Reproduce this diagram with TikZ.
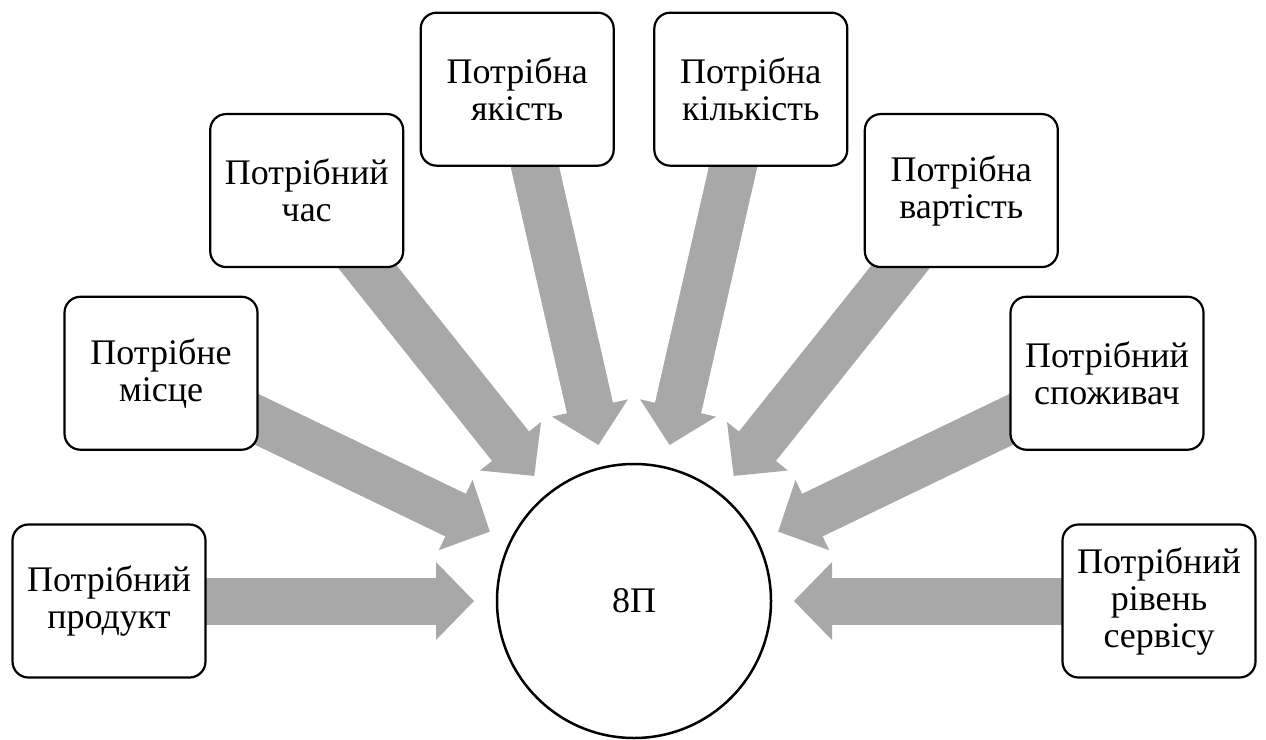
\documentclass[tikz,border=0pt]{standalone}
\usepackage{fontspec}
\setmainfont{Liberation Serif}
\newfontfamily\tnr{Liberation Serif}
\usetikzlibrary{arrows.meta,backgrounds,calc}
\definecolor{arrowgray}{RGB}{168,168,168}
\begin{document}
\begin{tikzpicture}[x=1pt,y=1pt,
  box/.style={draw, line width=2.2pt, rounded corners=16pt, fill=white,
    minimum width=193pt, minimum height=153pt, align=center, inner sep=2pt,
    font=\tnr\fontsize{36}{37}\selectfont},
  hub/.style={draw, circle, line width=2.5pt, fill=white, minimum size=274pt,
    inner sep=0pt, font=\tnr\fontsize{36}{37}\selectfont},
  blockarrow/.style={draw=arrowgray, line width=47pt,
    -{Triangle[width=78pt 0 0, length=38pt 0 0, line width=0pt 0 0]},
    shorten >=160pt},
  shaft/.style={draw=arrowgray, line width=47pt, shorten >=194pt}
]
\useasboundingbox (0,0) rectangle (1266,-739);
\node[hub] (c) at (634,-601) {8П};
\node[box] (b1) at ($(c)+(180:525)$) {Потрібний\\продукт};
\node[box] (b2) at ($(c)+(154.2857:525)$) {Потрібне\\місце};
\node[box] (b3) at ($(c)+(128.5714:525)$) {Потрібний\\час};
\node[box] (b4) at ($(c)+(102.8571:525)$) {Потрібна\\якість};
\node[box] (b5) at ($(c)+(77.1429:525)$) {Потрібна\\кількість};
\node[box] (b6) at ($(c)+(51.4286:525)$) {Потрібна\\вартість};
\node[box] (b7) at ($(c)+(25.7143:525)$) {Потрібний\\споживач};
\node[box] (b8) at ($(c)+(0:525)$) {Потрібний\\рівень\\сервісу};
\begin{scope}[on background layer]
\foreach \b in {b1,b2,b3,b4,b5,b6,b7,b8}{
  \draw[blockarrow] (\b.center) -- (c.center);
  \draw[shaft] (\b.center) -- (c.center);
}
\end{scope}
\end{tikzpicture}
\end{document}
